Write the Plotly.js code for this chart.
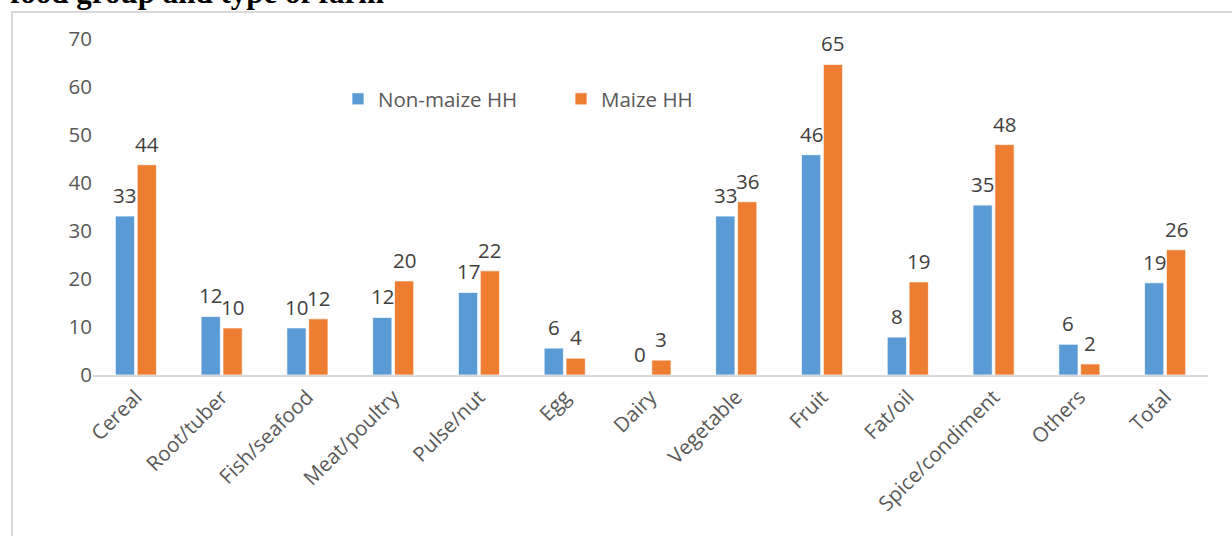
<!DOCTYPE html>
<html>
<head>
<meta charset="utf-8">
<script src="https://cdn.plot.ly/plotly-3.0.1.min.js"></script>
<style>html,body{margin:0;padding:0;background:#fff;}#chart{width:1232px;height:536px;}</style>
</head>
<body>
<div id="chart"></div>
<script>
const categories = ["Cereal","Root/tuber","Fish/seafood","Meat/poultry","Pulse/nut","Egg","Dairy","Vegetable","Fruit","Fat/oil","Spice/condiment","Others","Total"];
const nonMaize = [33.1, 12.2, 9.8, 12.0, 17.2, 5.6, 0, 33.1, 45.9, 7.9, 35.4, 6.4, 19.2];
const maize    = [43.8, 9.8, 11.7, 19.6, 21.7, 3.5, 3.1, 36.1, 64.7, 19.4, 48.0, 2.3, 26.1];
const seriesNames = ["Non-maize HH", "Maize HH"];
const titleText = "food group and type of farm";

const W = 1232, H = 536;
const mL = 93, mR = 24, mT = 39, mB = 161;
const pw = W - mL - mR, ph = H - mT - mB;
const px2x = p => (p - mL) / pw;
const py2y = p => (H - mB - p) / ph;

const font = "Open Sans, sans-serif";
const fs = 20.5;
const bargap = 0.49;
const catPx = pw / categories.length;
const barOffset = (1 - bargap) * catPx / 4;

const common = {
  type: "bar",
  x: categories,
  hoverinfo: "skip"
};
const traces = [
  Object.assign({}, common, {name: seriesNames[0], y: nonMaize, marker: {color: "#5B9BD5", line: {color: "rgba(255,255,255,0.7)", width: 1}}}),
  Object.assign({}, common, {name: seriesNames[1], y: maize, marker: {color: "#ED7D31", line: {color: "rgba(255,255,255,0.7)", width: 1}}})
];

const labelAnns = [];
[[nonMaize, -1], [maize, 1]].forEach(([vals, side]) => {
  vals.forEach((v, i) => {
    labelAnns.push({
      xref: "x", yref: "y", x: categories[i], y: v,
      text: String(Math.round(v)),
      showarrow: false, xanchor: "center", yanchor: "bottom",
      xshift: side * barOffset, yshift: 5,
      font: {family: font, size: fs, color: "#404040"}
    });
  });
});

const layout = {
  width: W, height: H,
  margin: {l: mL, r: mR, t: mT, b: mB, pad: 0},
  paper_bgcolor: "#ffffff", plot_bgcolor: "#ffffff",
  barmode: "group",
  bargap: bargap,
  bargroupgap: 0.12,
  font: {family: font, color: "#595959"},
  showlegend: true,
  legend: {
    orientation: "h",
    x: px2x(338), xanchor: "left",
    y: py2y(99), yanchor: "middle",
    font: {family: font, size: fs, color: "#595959"},
    itemwidth: 30,
    entrywidth: 178,
    bgcolor: "rgba(0,0,0,0)",
    traceorder: "normal"
  },
  xaxis: {
    type: "category",
    tickangle: -45,
    tickfont: {family: font, size: fs, color: "#595959"},
    showline: true, linecolor: "#d9d9d9", linewidth: 2,
    ticks: "", showgrid: false, zeroline: false,
    fixedrange: true
  },
  yaxis: {
    range: [0, 70],
    dtick: 10,
    tickfont: {family: font, size: fs, color: "#595959"},
    showgrid: false, zeroline: false, showline: false,
    ticks: "", ticklen: 0,
    fixedrange: true
  },
  shapes: [{
    type: "rect", xref: "paper", yref: "paper",
    x0: px2x(12), x1: px2x(1260), y0: py2y(620), y1: py2y(12),
    line: {color: "#d9d9d9", width: 2}, fillcolor: "rgba(0,0,0,0)", layer: "below"
  }],
  annotations: [{
    text: "<b>" + titleText + "</b>",
    xref: "paper", yref: "paper",
    x: px2x(8), xanchor: "left",
    y: py2y(12), yanchor: "bottom",
    showarrow: false,
    font: {family: "Liberation Serif, Times New Roman, serif", size: 31, color: "#000000"}
  }].concat(labelAnns)
};

Plotly.newPlot("chart", traces, layout, {displayModeBar: false, staticPlot: true});
</script>
</body>
</html>
